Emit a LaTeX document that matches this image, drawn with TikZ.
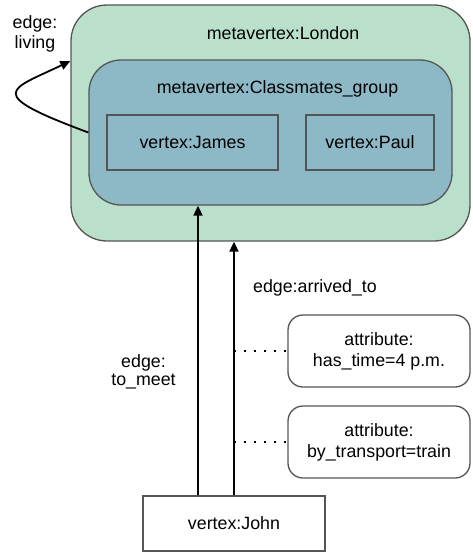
\documentclass[tikz,border=0pt]{standalone}
\usepackage{fontspec}
\setmainfont{Liberation Sans}
\usetikzlibrary{arrows.meta}
\definecolor{londonfill}{RGB}{186,224,204}
\definecolor{groupfill}{RGB}{141,185,199}
\definecolor{edgegray}{RGB}{85,85,85}
\tikzset{
  txt/.style={font=\fontsize{17.8}{20}\selectfont, inner sep=0pt, align=center},
  sqbox/.style={draw=edgegray, line width=1.3pt, inner sep=0pt, txt},
  rbox/.style={sqbox, rounded corners=15pt},
  arr/.style={line width=1.8pt, -{Triangle[length=10pt,width=9pt]}},
  dotline/.style={line width=1.6pt, dash pattern=on 1.6pt off 8.4pt}
}
\begin{document}
\begin{tikzpicture}[x=1pt,y=-1pt]
\useasboundingbox (0,0) rectangle (472,552);
% containers
\node[sqbox, fill=londonfill, rounded corners=36pt, minimum width=399pt, minimum height=236pt] (london) at (270.5,123) {};
\node[sqbox, fill=groupfill, rounded corners=32pt, minimum width=363pt, minimum height=145pt] (group) at (270.5,132.5) {};
\node[txt, anchor=base] (londonlbl) at (283,39.5) {metavertex:London};
\node[txt, anchor=base] (grouplbl) at (277.5,93) {metavertex:Classmates\_group};
% vertices
\node[sqbox, minimum width=171pt, minimum height=55pt] (james) at (192.5,142.5) {vertex:James};
\node[sqbox, minimum width=128pt, minimum height=55pt] (paul) at (370,142.5) {vertex:Paul};
\node[sqbox, minimum width=182pt, minimum height=55pt] (john) at (234,523.5) {vertex:John};
% attributes
\node[rbox, minimum width=182pt, minimum height=72pt, font=\fontsize{17.8}{21}\selectfont] (attr1) at (379,351) {attribute:\\has\_time=4 p.m.};
\node[rbox, minimum width=182pt, minimum height=72pt, font=\fontsize{17.8}{21}\selectfont] (attr2) at (379,442) {attribute:\\by\_transport=train};
% edge labels
\node[txt, anchor=base] (livinglbl) at (35,48) {edge:\\living};
\node[txt, anchor=base, font=\fontsize{17.8}{18}\selectfont] (meetlbl) at (143.5,385) {edge:\\to\_meet};
\node[txt, anchor=base] (arrivedlbl) at (315,292.7) {edge:arrived\_to};
% helper coordinates
\coordinate (mx) at (198,0);
\coordinate (ax) at (234,0);
\coordinate (loopy) at (0,61);
% edges
\draw[arr] (john.north -| mx) -- (group.south -| mx);
\draw[arr] (john.north -| ax) -- (london.south -| ax);
\draw[arr] (group.west) .. controls (-18,93) and (10,90) .. (london.west |- loopy);
\draw[dotline] (attr1.west -| ax) -- (attr1.west);
\draw[dotline] (attr2.west -| ax) -- (attr2.west);
\end{tikzpicture}
\end{document}
